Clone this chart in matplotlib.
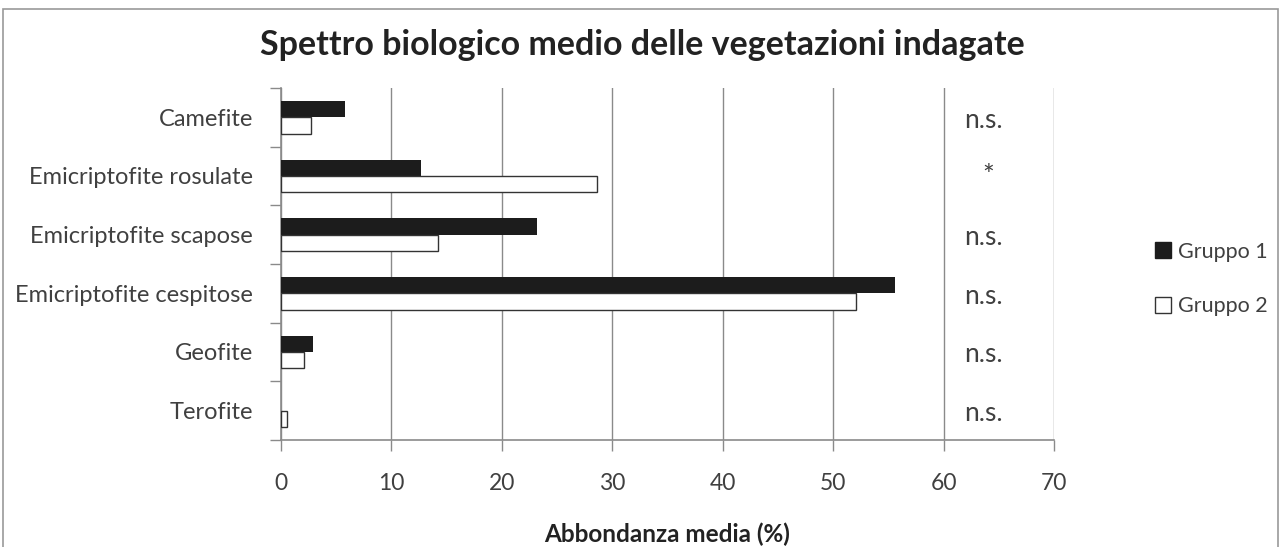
import numpy as np
import matplotlib.pyplot as plt
from matplotlib.patches import Rectangle

plt.rcParams['font.family'] = ['Lato', 'DejaVu Sans']

categories = ['Camefite', 'Emicriptofite rosulate', 'Emicriptofite scapose',
              'Emicriptofite cespitose', 'Geofite', 'Terofite']
gruppo1 = [5.8, 12.7, 23.2, 55.6, 2.9, 0.0]
gruppo2 = [2.7, 28.6, 14.2, 52.1, 2.1, 0.5]
signif = ['n.s.', '*', 'n.s.', 'n.s.', 'n.s.', 'n.s.']
xticks = [0, 10, 20, 30, 40, 50, 60, 70]

grey = '#8a8a8a'
txt = '#404040'

fig = plt.figure(figsize=(12.84, 5.47), dpi=100)
ax = fig.add_axes([281 / 1284, 1 - 440 / 547, (1054 - 281) / 1284, (440 - 88) / 547])

y = np.arange(len(categories))
h = 0.28
ax.barh(y - h / 2, gruppo1, height=h, color='#1c1c1c', lw=0, zorder=3)
ax.barh(y + h / 2, gruppo2, height=h, color='white', edgecolor='#333333', lw=1.0, zorder=3)

for i, s in enumerate(signif):
    if s == '*':
        ax.text(64.0, i + 0.02, s, ha='center', va='center', fontsize=20, color=txt)
    else:
        ax.text(63.6, i + 0.05, s, ha='center', va='center', fontsize=19, color=txt)

ax.set_xlim(0, 70)
ax.set_ylim(len(categories) - 0.5, -0.5)
ax.set_xticks(xticks)
ax.set_xticklabels([str(t) for t in xticks])
ax.set_yticks(y)
ax.set_yticklabels(categories)
ax.set_yticks(np.arange(len(categories) + 1) - 0.5, minor=True)
ax.tick_params(axis='y', which='major', length=0, pad=20, labelsize=17, labelcolor=txt)
ax.tick_params(axis='y', which='minor', length=8, width=1, color=grey, direction='out')
ax.tick_params(axis='x', which='major', length=8, width=1, color=grey, direction='out',
               pad=16, labelsize=16.5, labelcolor=txt)
ax.xaxis.grid(True, color=grey, lw=1, zorder=0)
ax.set_axisbelow(True)
for side in ['top', 'right']:
    ax.spines[side].set_visible(False)
for side in ['left', 'bottom']:
    ax.spines[side].set_color(grey)
    ax.spines[side].set_linewidth(1.2)

ax.set_xlabel('Abbondanza media (%)', fontsize=17.5, fontweight='bold', color='#222222', labelpad=20)

fig.text(0.5, 1 - 45 / 547, 'Spettro biologico medio delle vegetazioni indagate',
         ha='center', va='center', fontsize=24.5, fontweight='bold', color='#222222')

handles = [Rectangle((0, 0), 1, 1, facecolor='#1c1c1c', edgecolor='#1c1c1c'),
           Rectangle((0, 0), 1, 1, facecolor='white', edgecolor='#333333')]
fig.legend(handles, ['Gruppo 1', 'Gruppo 2'], loc='center left',
           bbox_to_anchor=(1155 / 1284, 1 - 279 / 547), frameon=False, fontsize=15.5,
           borderpad=0, borderaxespad=0,
           handlelength=0.75, handleheight=0.75, handletextpad=0.3, labelspacing=1.6,
           labelcolor=txt)

# outer chart border
fig.add_artist(Rectangle((3 / 1284, -0.05), (1278 - 3) / 1284, 1.05 - 9 / 547,
                         transform=fig.transFigure, fill=False, edgecolor='#999999', lw=1.2))

fig.savefig('out.png', dpi=100)
